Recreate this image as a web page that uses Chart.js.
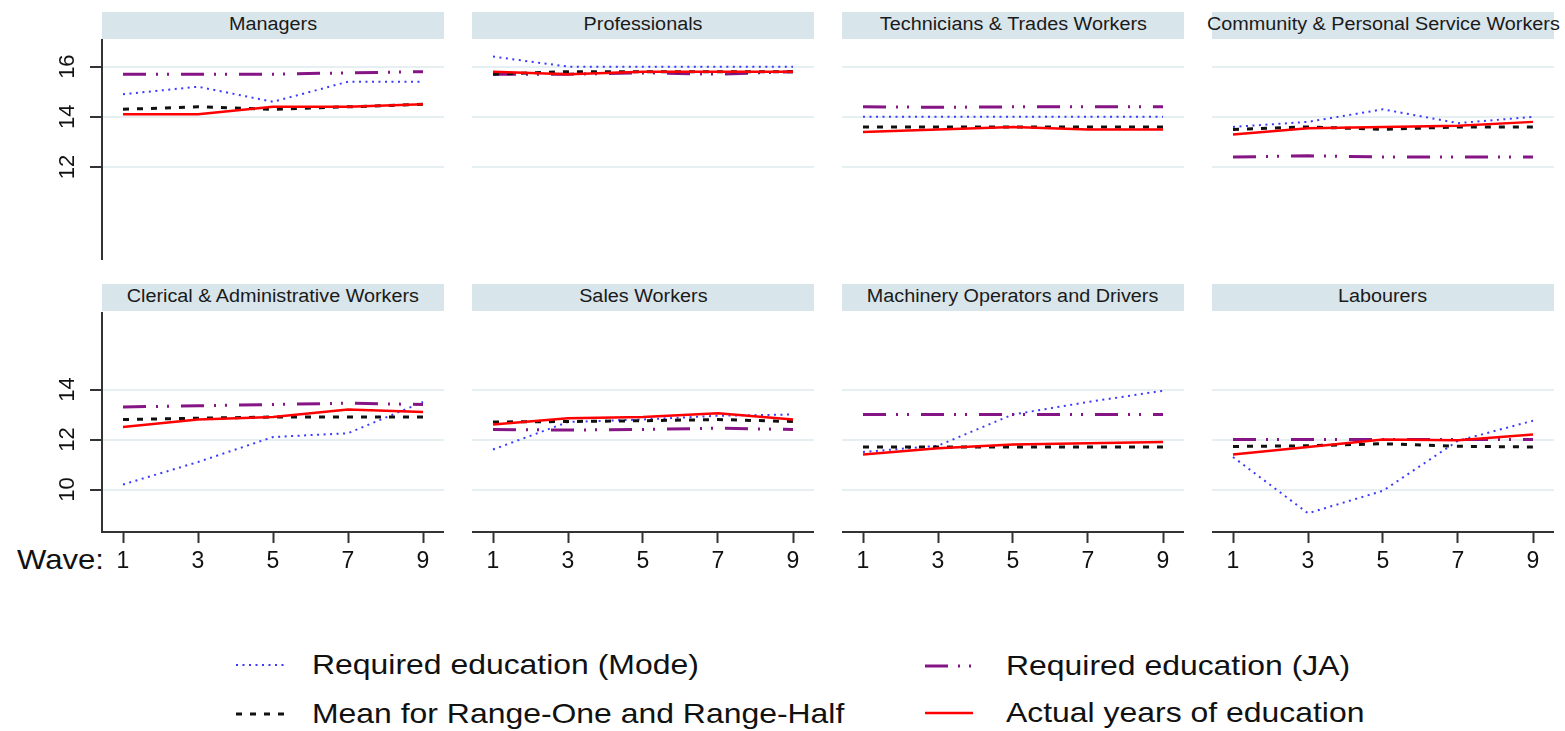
<!DOCTYPE html>
<html>
<head>
<meta charset="utf-8">
<script src="https://cdn.jsdelivr.net/npm/chart.js@4.4.1/dist/chart.umd.min.js"></script>
<style>
  body { margin: 0; background: #fff; width: 1565px; height: 731px; position: relative; overflow: hidden;
         font-family: "Liberation Sans", Arial, sans-serif; color: #111; }
  .strip { position: absolute; height: 27px; background: #d8e5eb; text-align: center; line-height: 25px;
           font-size: 18px; color: #1a1a1a; white-space: nowrap; }
  .strip span { display: inline-block; transform: scaleX(1.1); }
  .panel { position: absolute; }
  .wave { position: absolute; left: 17px; top: 544px; font-size: 28px; line-height: 32px;
          transform: scaleX(1.11); transform-origin: left center; }
  .leg { position: absolute; font-size: 28px; line-height: 32px; white-space: nowrap;
         transform: scaleX(1.14); transform-origin: left center; }
  .swatch { position: absolute; }
</style>
</head>
<body>
<div class="wave">Wave:</div>

<script>
// Donnees
const waves = [1, 3, 5, 7, 9];
const topTicks = [12, 14, 16];
const bottomTicks = [10, 12, 14];

const occupations = [
    'Managers', 'Professionals', 'Technicians & Trades Workers', 'Community & Personal Service Workers',
    'Clerical & Administrative Workers', 'Sales Workers', 'Machinery Operators and Drivers', 'Labourers'
];

// Required education (Mode)
const modeEdu = [
    [14.9, 15.2, 14.6, 15.4, 15.4],
    [16.4, 16.0, 16.0, 16.0, 16.0],
    [14.0, 14.0, 14.0, 14.0, 14.0],
    [13.6, 13.8, 14.3, 13.75, 14.0],
    [10.2, 11.1, 12.1, 12.25, 13.5],
    [11.6, 12.7, 12.8, 12.95, 13.0],
    [11.5, 11.75, 13.0, 13.5, 13.95],
    [11.3, 9.05, 9.95, 11.95, 12.75]
];

// Required education (JA)
const jaEdu = [
    [15.7, 15.7, 15.7, 15.75, 15.8],
    [15.7, 15.7, 15.75, 15.7, 15.8],
    [14.4, 14.38, 14.4, 14.4, 14.4],
    [12.4, 12.45, 12.4, 12.4, 12.4],
    [13.3, 13.35, 13.4, 13.45, 13.4],
    [12.4, 12.38, 12.4, 12.45, 12.4],
    [13.0, 13.0, 13.0, 13.0, 13.0],
    [12.0, 12.0, 12.0, 12.0, 12.0]
];

// Mean for Range-One and Range-Half
const meanRange = [
    [14.3, 14.4, 14.3, 14.4, 14.5],
    [15.7, 15.8, 15.8, 15.8, 15.8],
    [13.6, 13.6, 13.6, 13.6, 13.6],
    [13.5, 13.6, 13.5, 13.6, 13.6],
    [12.8, 12.85, 12.9, 12.9, 12.9],
    [12.7, 12.72, 12.75, 12.8, 12.72],
    [11.7, 11.7, 11.7, 11.7, 11.7],
    [11.72, 11.75, 11.83, 11.73, 11.7]
];

// Actual years of education
const actualEdu = [
    [14.1, 14.1, 14.4, 14.4, 14.5],
    [15.8, 15.7, 15.8, 15.8, 15.8],
    [13.4, 13.5, 13.6, 13.5, 13.5],
    [13.3, 13.55, 13.6, 13.65, 13.8],
    [12.5, 12.8, 12.9, 13.2, 13.1],
    [12.6, 12.85, 12.9, 13.05, 12.8],
    [11.4, 11.65, 11.8, 11.85, 11.9],
    [11.4, 11.7, 12.0, 11.97, 12.2]
];

// Styles des series
const series = [
    { label: 'Required education (Mode)', values: modeEdu, color: '#3a3aff', width: 2, dash: [2, 4.5], order: 3 },
    { label: 'Required education (JA)', values: jaEdu, color: '#851585', width: 3, dash: [23, 10, 2, 9, 2, 12], order: 2 },
    { label: 'Mean for Range-One and Range-Half', values: meanRange, color: '#111111', width: 3, dash: [6, 8], order: 1 },
    { label: 'Actual years of education', values: actualEdu, color: '#ff0000', width: 2.5, dash: [], order: 0 }
];

Chart.defaults.font.family = '"Liberation Sans", Arial, sans-serif';
Chart.defaults.color = '#111';

const colLeft = [102, 472, 842, 1212];
const panelW = 342;
const rows = [
    { stripTop: 12, plotTop: 39, plotH: 221, ticks: topTicks, xAxis: false },
    { stripTop: 284, plotTop: 312, plotH: 220, ticks: bottomTicks, xAxis: true }
];
const axisColor = '#333';

occupations.forEach((name, k) => {
    const row = rows[Math.floor(k / 4)];
    const col = k % 4;
    const showY = col === 0;
    const yW = showY ? colLeft[0] : 0;
    const xH = row.xAxis ? 60 : 0;

    // bandeau du titre
    const strip = document.createElement('div');
    strip.className = 'strip';
    strip.style.left = colLeft[col] + 'px';
    strip.style.top = row.stripTop + 'px';
    strip.style.width = panelW + 'px';
    strip.innerHTML = '<span></span>';
    strip.firstChild.textContent = name;
    document.body.appendChild(strip);

    const canvas = document.createElement('canvas');
    canvas.className = 'panel';
    canvas.width = panelW + yW;
    canvas.height = row.plotH + xH;
    canvas.style.left = (colLeft[col] - yW) + 'px';
    canvas.style.top = row.plotTop + 'px';
    document.body.appendChild(canvas);

    new Chart(canvas, {
        type: 'line',
        data: {
            datasets: series.map(s => ({
                label: s.label,
                data: waves.map((w, i) => ({ x: w, y: s.values[k][i] })),
                borderColor: s.color,
                borderWidth: s.width,
                borderDash: s.dash,
                borderCapStyle: 'butt',
                pointRadius: 0,
                tension: 0,
                fill: false,
                order: s.order
            }))
        },
        options: {
            responsive: false,
            animation: false,
            devicePixelRatio: 1,
            layout: { padding: 0, autoPadding: false },
            plugins: { legend: { display: false }, tooltip: { enabled: false } },
            scales: {
                x: {
                    type: 'linear',
                    display: row.xAxis,
                    min: 0.44,
                    max: 9.56,
                    afterBuildTicks: s => { s.ticks = waves.map(v => ({ value: v })); },
                    afterFit: s => { s.height = xH; s.paddingLeft = 0; s.paddingRight = 0; },
                    border: { display: true, color: axisColor, width: 2 },
                    grid: { drawOnChartArea: false, tickLength: 11, tickColor: axisColor, tickWidth: 2 },
                    ticks: { font: { size: 23 }, color: '#111', padding: 5, maxRotation: 0, autoSkip: false }
                },
                y: {
                    min: 8.3,
                    max: 17.1,
                    afterBuildTicks: s => { s.ticks = row.ticks.map(v => ({ value: v })); },
                    afterFit: s => { s.width = yW; s.paddingTop = 0; s.paddingBottom = 0; },
                    border: { display: showY, color: axisColor, width: 2 },
                    grid: { color: '#e6eff1', lineWidth: 2, drawTicks: showY, tickLength: 12, tickColor: axisColor, tickWidth: 2 },
                    ticks: {
                        display: showY, minRotation: 90, maxRotation: 90, crossAlign: 'center',
                        padding: 10, font: { size: 22 }, color: '#111'
                    }
                }
            }
        }
    });
});

// Legende commune
const legendPos = [
    { sx: 236, tx: 312, cy: 665 },
    { sx: 925, tx: 1006, cy: 666 },
    { sx: 236, tx: 312, cy: 714 },
    { sx: 925, tx: 1006, cy: 713 }
];
series.forEach((s, i) => {
    const p = legendPos[i];
    const c = document.createElement('canvas');
    c.className = 'swatch';
    c.width = 50; c.height = 10;
    c.style.left = p.sx + 'px';
    c.style.top = (p.cy - 5) + 'px';
    document.body.appendChild(c);
    const g = c.getContext('2d');
    g.strokeStyle = s.color;
    g.lineWidth = s.width;
    g.setLineDash(s.dash);
    g.beginPath();
    g.moveTo(0, 5);
    g.lineTo(48, 5);
    g.stroke();

    const t = document.createElement('div');
    t.className = 'leg';
    t.style.left = p.tx + 'px';
    t.style.top = (p.cy - 16) + 'px';
    t.textContent = s.label;
    document.body.appendChild(t);
});
</script>
</body>
</html>
